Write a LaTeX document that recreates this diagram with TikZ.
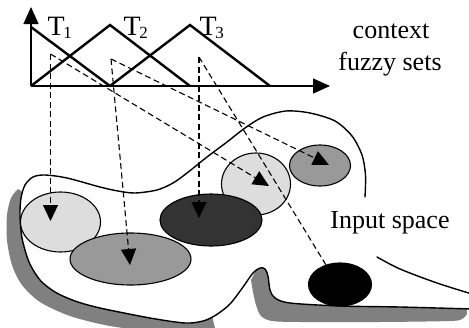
\documentclass[tikz,border=0pt]{standalone}
\usepackage{fontspec}
\setmainfont{Liberation Serif}
\usetikzlibrary{arrows.meta,shapes.geometric}
\definecolor{lightfill}{HTML}{DDDDDD}
\definecolor{midfill}{HTML}{999999}
\definecolor{darkfill}{HTML}{333333}
\definecolor{shadowgray}{HTML}{808080}
\begin{document}
\begin{tikzpicture}[x=1pt,y=-1pt,
  mf/.style={line width=2.4pt, line join=miter},
  axisline/.style={line width=1.3pt, -{Triangle[width=15pt,length=17pt]}},
  proj/.style={line width=1.1pt, dash pattern=on 6pt off 3.5pt, -{Triangle[width=15pt,length=16pt]}},
  blob/.style={ellipse, draw=black, line width=1.1pt, inner sep=0pt, outer sep=0pt},
  outline/.style={line width=1.4pt, line cap=round, line join=round},
  lbl/.style={font=\fontsize{26}{30}\selectfont, inner sep=0pt},
  tlbl/.style={font=\fontsize{28}{30}\selectfont, inner sep=0pt, anchor=base west},
]
\useasboundingbox (0,0) rectangle (469,327);

% shadows
\fill[shadowgray] plot[smooth] coordinates {(18,189) (11,198) (7,215) (7,240) (12,265) (22,285) (40,302) (70,316) (110,326) (160,332) (205,334)} -- (216,332) -- (212,316) -- (150,300) -- (60,270) -- (32,230) -- (28,195) -- cycle;
\fill[shadowgray] plot[smooth] coordinates {(251,280) (253,292) (256,305) (261,316) (272,321) (300,322) (380,322) (450,321) (462,319) (467,314)} -- (466,304) -- (300,300) -- (276,292) -- (270,268) -- (257,268) -- cycle;

% input space region
\fill[white] plot[smooth] coordinates {(365,197) (365.5,175) (362,155) (352,136) (335,121) (310,113) (286,111) (263,117) (245,128) (227,142) (207,157) (187,173) (173,183) (157,190) (135,193) (118,191) (100,187) (67,178) (45,175) (33,177) (25,185) (21,198) (20,215) (22,238) (29,262) (40,280) (55,292) (75,301) (100,308) (150,318) (185,323) (203,321) (216,315) (230,304) (243,287) (253,273) (260,268) (265,269) (268,276) (270,290) (275,298) (290,303) (340,306) (400,307) (472,309)}
  -- (472,294) -- plot[smooth] coordinates {(472,294) (437,283) (400,269) (377,257)} -- cycle;
\draw[outline] plot[smooth] coordinates {(365,197) (365.5,175) (362,155) (352,136) (335,121) (310,113) (286,111) (263,117) (245,128) (227,142) (207,157) (187,173) (173,183) (157,190) (135,193) (118,191) (100,187) (67,178) (45,175) (33,177) (25,185) (21,198) (20,215) (22,238) (29,262) (40,280) (55,292) (75,301) (100,308) (150,318) (185,323) (203,321) (216,315) (230,304) (243,287) (253,273) (260,268) (265,269) (268,276) (270,290) (275,298) (290,303) (340,306) (400,307) (472,309)};
\draw[outline] plot[smooth] coordinates {(377,257) (400,269) (437,283) (472,294)};

% granules
\node[blob, fill=lightfill, minimum width=80pt, minimum height=60pt] (e1) at (60.5,222) {};
\node[blob, fill=midfill, minimum width=121pt, minimum height=52pt] (e2) at (130.5,259) {};
\node[blob, fill=lightfill, minimum width=69pt, minimum height=62pt] (e4) at (256,184) {};
\node[blob, fill=darkfill, minimum width=102pt, minimum height=52pt] (e3) at (211,220) {};
\node[blob, fill=midfill, minimum width=61pt, minimum height=41pt] (e5) at (320,165.5) {};
\node[blob, fill=black, minimum width=63pt, minimum height=43pt] (e6) at (340,284.5) {};

% axes and fuzzy sets
\coordinate (o) at (31,86);
\coordinate (ytip) at (31,7);
\coordinate (xtip) at (330,86);
\draw[axisline] (o) -- (ytip);
\draw[axisline] (o) -- (xtip);
\draw[mf] (31,27) -- (110,86);
\draw[mf] (31,86) -- (110,25) -- (190,86);
\draw[mf] (110,86) -- (190,25) -- (270,86);

\node[tlbl] (T1) at (47.5,35) {T\kern-1.5pt\raisebox{-3.5pt}{\fontsize{17}{17}\selectfont 1}};
\node[tlbl] (T2) at (123.5,35) {T\kern-1.5pt\raisebox{-3.5pt}{\fontsize{17}{17}\selectfont 2}};
\node[tlbl] (T3) at (199.5,35) {T\kern-1.5pt\raisebox{-3.5pt}{\fontsize{17}{17}\selectfont 3}};

% projections
\coordinate (s1) at (50.5,54);
\coordinate (s2) at (111,59);
\coordinate (s3) at (199,57);
\coordinate (t1) at (50.5,221);
\coordinate (t2) at (130,265);
\coordinate (t3) at (199,218);
\coordinate (t4) at (269,186);
\coordinate (t5) at (329,165);
\coordinate (t6) at (337,283);
\draw[proj] (s1) -- (t1);
\draw[proj] (s1) -- (t4);
\draw[proj] (s2) -- (t2);
\draw[proj] (s2) -- (t5);
\draw[proj] (s3) -- (t3);
\draw[proj] (s3) -- (t6);

% texts
\node[lbl, anchor=base] (ctx1) at (391,38) {context};
\node[lbl, anchor=base] (ctx2) at (390,70) {fuzzy sets};
\node[lbl, anchor=base] (inp) at (390,228) {Input space};
\end{tikzpicture}
\end{document}
